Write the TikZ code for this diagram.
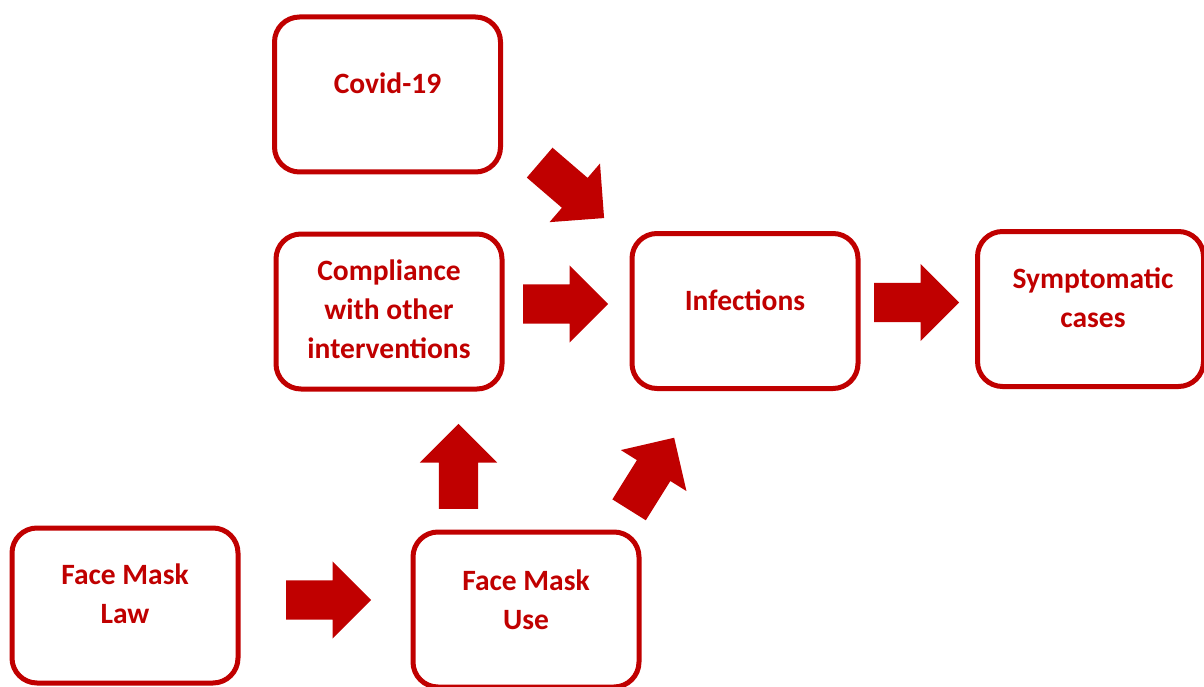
\documentclass[tikz,border=0pt]{standalone}
\usepackage{fontspec}
\setmainfont{Carlito}
\usetikzlibrary{shapes.arrows}
\definecolor{darkred}{HTML}{C00000}
\begin{document}
\begin{tikzpicture}[x=1pt,y=-1pt,
  box/.style={draw=darkred,line width=5pt,rounded corners=25pt,minimum width=226pt,minimum height=155pt,inner sep=0pt},
  lbl/.style={text=darkred,font=\fontsize{29.5}{39}\selectfont\bfseries,align=center,anchor=base,inner sep=0pt},
  barrow/.style={single arrow,fill=darkred,draw=none,minimum height=85pt,inner xsep=0pt,inner ysep=19.5pt,single arrow head extend=19pt,anchor=tail}]
\useasboundingbox (0,0) rectangle (1204,687);
\node[box] (covid) at (387.5,94.5) {};
\node[box] (comp) at (389,311.5) {};
\node[box] (inf) at (745,311) {};
\node[box] (sym) at (1090.5,309) {};
\node[box] (law) at (125,605.5) {};
\node[box] (use) at (526,609.5) {};
\node[lbl] (tcovid) at (387.5,94) {Covid-19};
\node[lbl] (tcomp) at (389,358.5) {Compliance\\with other\\interventions};
\node[lbl] (tinf) at (745,310) {Infections};
\node[lbl] (tsym) at (1093,327.5) {Symptomatic\\cases};
\node[lbl] (tlaw) at (125,623.5) {Face Mask\\Law};
\node[lbl] (tuse) at (526,629.5) {Face Mask\\Use};
\node[barrow,rotate=-40.7] (a1) at (539.5,162.5) {};
\node[barrow] (a2) at (523,304) {};
\node[barrow] (a3) at (874,302.5) {};
\node[barrow] (a4) at (286,600) {};
\node[barrow,rotate=90] (a5) at (458.5,509) {};
\node[barrow,rotate=58] (a6) at (629,510) {};
\end{tikzpicture}
\end{document}
